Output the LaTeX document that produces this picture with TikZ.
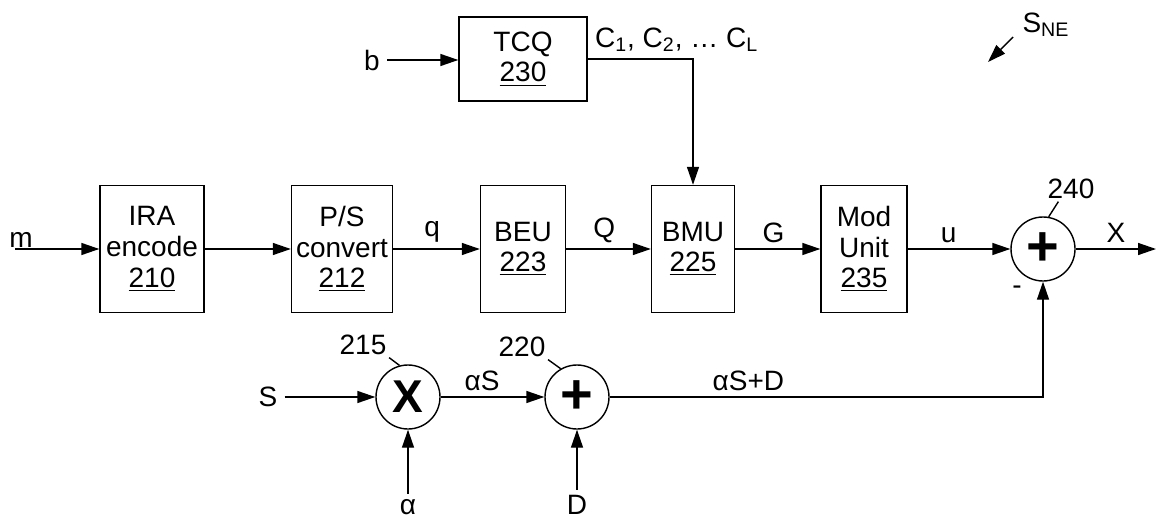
\documentclass[tikz,border=0pt]{standalone}
\usepackage{fontspec}
\setmainfont{Liberation Sans}
\usetikzlibrary{arrows.meta}
\newcommand{\plusmark}{{\fontsize{28pt}{28pt}\selectfont\bfseries +}}
\newcommand{\timesmark}{{\fontsize{23pt}{23pt}\selectfont\bfseries X}}

\begin{document}
\begin{tikzpicture}[x=0.5pt, y=-0.5pt, line width=0.7pt,
  font=\fontsize{14pt}{15.3pt}\selectfont,
  block/.style={shape=rectangle, draw=black, align=center, inner sep=0pt, minimum height=63.5pt},
  junc/.style={shape=circle, draw=black, inner sep=0pt, minimum size=32pt},
  arr/.style={-{Triangle[length=9pt, width=6pt]}},
  lbl/.style={above, inner sep=3pt},
  refnum/.style={inner sep=1pt},
  bottomin/.style={inner sep=2.5pt}]
\useasboundingbox (0,0) rectangle (1156,519);
% blocks
\node[block, minimum width=64pt, minimum height=42pt] (TCQ) at (523,59) {TCQ\\\underline{230}};
\node[block, minimum width=52pt] (IRA) at (152,249) {IRA\\encode\\\underline{210}};
\node[block, minimum width=50.5pt] (PS) at (342,249) {P/S\\convert\\\underline{212}};
\node[block, minimum width=42.5pt] (BEU) at (523,249) {BEU\\\underline{223}};
\node[block, minimum width=41.5pt] (BMU) at (693,249) {BMU\\\underline{225}};
\node[block, minimum width=43pt] (MOD) at (864,249) {Mod\\Unit\\\underline{235}};
\node[junc] (MUL) at (408,397) {\timesmark};
\node[junc] (ADD) at (577,397) {\plusmark};
\node[junc] (SUM) at (1043,249) {\plusmark};
% inputs and labels
\node (b) at (372,60) {b};
\node (m) at (21,240) {m};
\coordinate (Min) at (15,249);
\node (S) at (268,397) {S};
\node[bottomin] (alpha) at (408,507) {α};
\node[bottomin] (D) at (577,505) {D};
\coordinate (Xout) at (1156,249);
\node[refnum] (L215) at (363,345) {215};
\node[refnum] (L220) at (522,347) {220};
\node[refnum] (L240) at (1071,189) {240};
\node (minus) at (1017,290) {-};
\node (SNE) at (1046,25) {S\textsubscript{NE}};
\coordinate (SNEfrom) at (1013,37);
\coordinate (SNEto) at (988,62);
% connectors
\draw[arr] (b) -- (b -| TCQ.west);
\draw[arr] (TCQ.east) -- node[above right, pos=0] {C\textsubscript{1}, C\textsubscript{2}, \dots\ C\textsubscript{L}} (TCQ.east -| BMU) -- (BMU);
\draw[arr] (Min) -- (IRA);
\draw[arr] (IRA) -- (PS);
\draw[arr] (PS) -- node[lbl, pos=0.45] {q} (BEU);
\draw[arr] (BEU) -- node[lbl, pos=0.45] {Q} (BMU);
\draw[arr] (BMU) -- node[lbl, pos=0.45] {G} (MOD);
\draw[arr] (MOD) -- node[lbl, pos=0.4] {u} (SUM);
\draw[arr] (SUM) -- node[lbl] {X} (Xout);
\draw[arr] (S) -- (MUL);
\draw[arr] (alpha) -- (MUL);
\draw[arr] (MUL) -- node[lbl, pos=0.4] {αS} (ADD);
\draw[arr] (D) -- (ADD);
\draw[arr] (ADD) -- node[lbl, pos=0.32] {αS+D} (ADD -| SUM) -- (SUM);
\draw (L215.south east) -- (MUL.105);
\draw (L220.south east) -- (ADD.120);
\draw (SUM.80) -- (L240.225);
\draw[arr] (SNEfrom) -- (SNEto);
\end{tikzpicture}
\end{document}
